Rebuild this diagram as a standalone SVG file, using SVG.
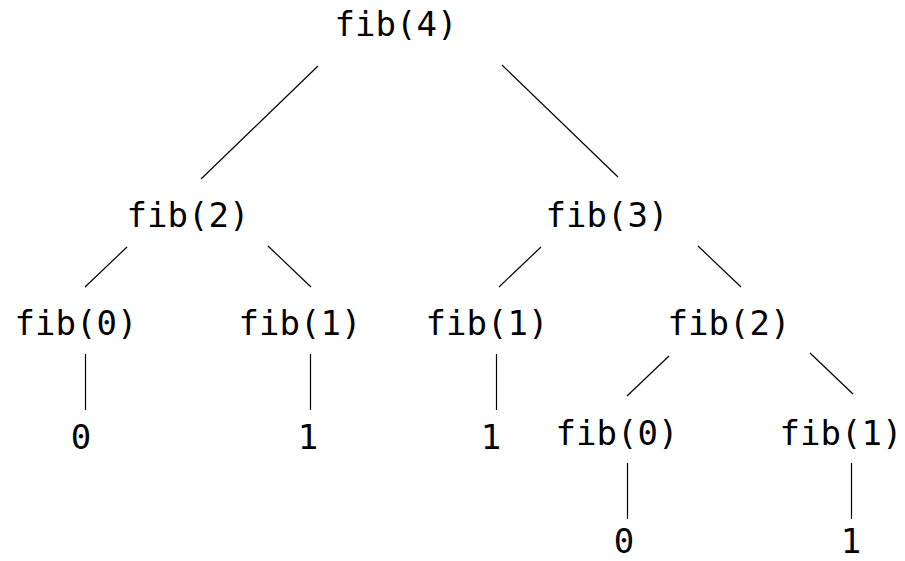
<svg xmlns="http://www.w3.org/2000/svg" width="905" height="561" viewBox="0 0 905 561">
<style>
text{font-family:"DejaVu Sans Mono",monospace;font-size:34px;fill:#000;text-anchor:middle}
line{stroke:#000;stroke-width:1.2}
</style>
<rect width="905" height="561" fill="#fff"/>
<g id="connectors">
<line x1="318" y1="66" x2="201" y2="179"/>
<line x1="502" y1="65" x2="618" y2="177"/>
<line x1="127" y1="247" x2="85" y2="287"/>
<line x1="268" y1="246" x2="311" y2="287"/>
<line x1="541" y1="247" x2="499" y2="287"/>
<line x1="698" y1="246" x2="741" y2="287"/>
<line x1="85.5" y1="354" x2="85.5" y2="410"/>
<line x1="310.5" y1="354" x2="310.5" y2="410"/>
<line x1="496.5" y1="354" x2="496.5" y2="410"/>
<line x1="669" y1="356" x2="627" y2="396"/>
<line x1="810" y1="353" x2="853" y2="394"/>
<line x1="627.5" y1="463" x2="627.5" y2="519"/>
<line x1="851.5" y1="463" x2="851.5" y2="519"/>
</g>
<g id="n_fib4"><text x="396" y="36">fib(4)</text></g>
<g id="n_fib2a"><text x="188" y="227">fib(2)</text></g>
<g id="n_fib3"><text x="607" y="227">fib(3)</text></g>
<g id="n_fib0a"><text x="76" y="335">fib(0)</text></g>
<g id="n_fib1a"><text x="300" y="335">fib(1)</text></g>
<g id="n_fib1b"><text x="487" y="335">fib(1)</text></g>
<g id="n_fib2b"><text x="729" y="335">fib(2)</text></g>
<g id="n_fib0b"><text x="617" y="445">fib(0)</text></g>
<g id="n_fib1c"><text x="841" y="445">fib(1)</text></g>
<g id="n_r0a"><text x="81" y="449">0</text></g>
<g id="n_r1a"><text x="308" y="449">1</text></g>
<g id="n_r1b"><text x="491" y="449">1</text></g>
<g id="n_r0b"><text x="624" y="553">0</text></g>
<g id="n_r1c"><text x="851" y="553">1</text></g>
</svg>
